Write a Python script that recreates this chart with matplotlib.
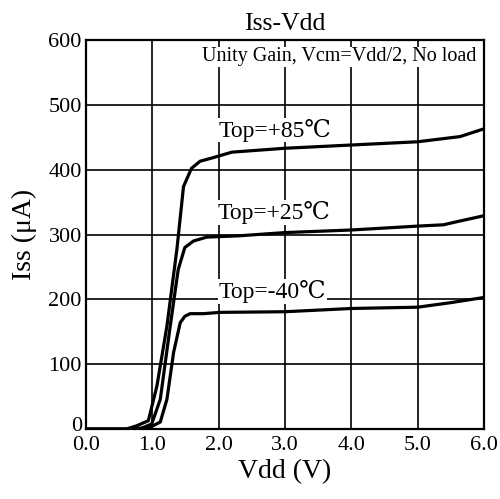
import matplotlib
matplotlib.use("Agg")
import matplotlib.pyplot as plt
import matplotlib.transforms as mtransforms

plt.rcParams['font.family'] = ['Liberation Serif', 'DejaVu Serif', 'DejaVu Sans']

# Vdd (V) vs Iss (uA)
vdd_85 = [0.0, 0.6, 0.76, 0.94, 1.07, 1.22, 1.37, 1.47, 1.59, 1.72, 1.9, 2.2, 3.0, 4.0, 5.0, 5.64, 6.0]
iss_85 = [0, 0, 5, 13, 67, 159, 277, 374, 402, 413, 418, 427, 433, 438, 443, 451, 463]

vdd_25 = [0.0, 0.7, 0.85, 0.99, 1.12, 1.27, 1.39, 1.49, 1.62, 1.82, 2.3, 3.0, 4.0, 5.0, 5.39, 5.6, 6.0]
iss_25 = [0, 0, 2, 8, 46, 159, 246, 280, 290, 296, 298, 303, 307, 313, 315, 320, 329]

vdd_m40 = [0.0, 0.75, 0.9, 0.97, 1.12, 1.22, 1.32, 1.42, 1.49, 1.57, 1.77, 2.02, 3.0, 4.0, 5.0, 5.5, 6.0]
iss_m40 = [0, 0, 1, 3, 11, 46, 118, 164, 174, 178, 178, 180, 181, 186, 188, 195, 203]

labels = ['Top=+85\u2103', 'Top=+25\u2103', 'Top=-40\u2103']
label_pos = [(2.0, 461), (1.98, 334), (2.0, 212)]

xticks = [0, 1, 2, 3, 4, 5, 6]
xticklabels = ['0.0', '1.0', '2.0', '3.0', '4.0', '5.0', '6.0']
yticks = [0, 100, 200, 300, 400, 500, 600]

fig = plt.figure(figsize=(5.0, 4.99), dpi=100)
ax = fig.add_axes([0.172, 0.14, 0.796, 0.78])

for xs, ys in [(vdd_85, iss_85), (vdd_25, iss_25), (vdd_m40, iss_m40)]:
    ax.plot(xs, ys, color='black', lw=2.3, zorder=4)

for txt, (x, y) in zip(labels, label_pos):
    ax.text(x, y, txt, fontsize=17, va='center', ha='left', zorder=3,
            bbox=dict(facecolor='white', edgecolor='none', pad=0.5))

ax.text(5.88, 574, 'Unity Gain, Vcm=Vdd/2, No load', fontsize=14.5, ha='right', va='center',
        zorder=3, bbox=dict(facecolor='white', edgecolor='none', pad=0.5))

ax.set_xlim(0, 6)
ax.set_ylim(0, 600)
ax.set_xticks(xticks)
ax.set_xticklabels(xticklabels)
ax.set_yticks(yticks)
ax.tick_params(axis='both', length=0, labelsize=16)
ax.tick_params(axis='x', pad=5)
ax.tick_params(axis='y', pad=3)
ax.grid(True, color='black', lw=1.2, zorder=1)
ax.set_axisbelow(True)
for s in ax.spines.values():
    s.set_linewidth(1.6)

# the "0" on the y axis sits a little higher in the reference
zero_lbl = ax.get_yticklabels()[0]
zero_lbl.set_transform(zero_lbl.get_transform() +
                       mtransforms.ScaledTranslation(0, 4 / 72, fig.dpi_scale_trans))

ax.set_title('Iss-Vdd', fontsize=18.5, pad=7)
ax.set_xlabel('Vdd (V)', fontsize=20, labelpad=3)
ax.set_ylabel('Iss (\u03bcA)', fontsize=20, labelpad=8)

fig.savefig('out.png', dpi=100)
